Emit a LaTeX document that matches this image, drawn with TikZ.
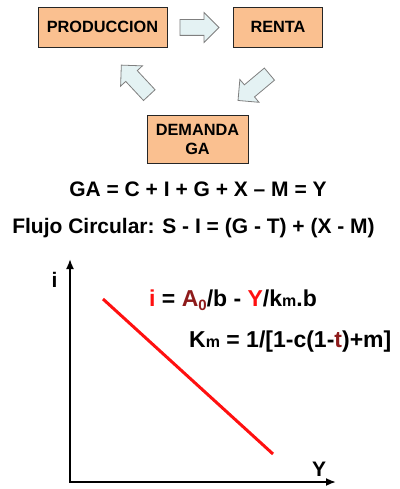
\documentclass[tikz,border=0pt]{standalone}
\usepackage{fontspec}
\setmainfont{Liberation Sans}
\usetikzlibrary{shapes.arrows,arrows.meta}
\definecolor{boxfill}{HTML}{FAC090}
\definecolor{arrfill}{HTML}{E4F2F3}
\definecolor{arrline}{HTML}{7F7F7F}
\definecolor{dred}{HTML}{8E1B1B}
\definecolor{bred}{HTML}{FF1010}
\newcommand{\smallm}{{\fontsize{16}{16}\selectfont m}}
\begin{document}
\begin{tikzpicture}[x=1pt,y=-1pt,
  box/.style={draw=black!85, line width=0.8pt, fill=boxfill, inner sep=0pt,
    font=\fontsize{16.3}{19}\selectfont\bfseries, align=center},
  blockarrow/.style={single arrow, draw=arrline, fill=arrfill, line width=0.8pt,
    inner xsep=0pt, inner ysep=7.5pt, single arrow head extend=7pt, minimum width=29pt},
  eq/.style={font=\fontsize{21}{24}\selectfont\bfseries, anchor=base, inner sep=0pt},
  formula/.style={font=\fontsize{23}{26}\selectfont\bfseries, anchor=base west, inner sep=0pt},
  axis/.style={line width=1.8pt, {Latex[length=10pt,width=8pt]}-{Latex[length=10pt,width=8pt]}},
  redline/.style={line width=3pt, draw=bred}]
\useasboundingbox (0,0) rectangle (399,489);
% boxes
\node[box, minimum width=129pt, minimum height=40pt] (prod) at (102.5,27) {PRODUCCION};
\node[box, minimum width=89pt, minimum height=40pt] (renta) at (278,27) {RENTA};
\node[box, minimum width=101pt, minimum height=48pt] (dem) at (197.5,139) {DEMANDA\\GA};
% block arrows
\node[blockarrow, minimum height=39pt] (a1) at (195.5,27.5) {};
\node[blockarrow, minimum height=41pt, rotate=220] (a2) at (256.75,84.75) {};
\node[blockarrow, minimum height=41pt, rotate=133] (a3) at (138,83) {};
% equations
\node[eq] (ga) at (198,196) {GA = C + I + G + X – M = Y};
\node[eq] (flujo) at (193.5,233) {Flujo Circular: S - I = (G - T) + (X - M)};
% axes
\coordinate (ytop) at (70,259);
\coordinate (o) at (70,482);
\coordinate (xend) at (336,482);
\draw[axis] (ytop) -- (o) -- (xend);
\node[eq] (ilab) at (54.5,287) {i};
\node[eq] (ylab) at (319,476) {Y};
% red line
\coordinate (r1) at (103,299);
\coordinate (r2) at (273,454);
\draw[redline] (r1) -- (r2);
% formulas
\node[formula] (f1) at (149,306)
  {{\color{bred}i} = {\color{dred}A\raisebox{-4pt}{\fontsize{15}{15}\selectfont 0}}/b - {\color{bred}Y}/k\smallm.b};
\node[formula] (f2) at (189,347)
  {K\smallm{} = 1/[1-c(1-{\color{dred}t})+m]};
\end{tikzpicture}
\end{document}
